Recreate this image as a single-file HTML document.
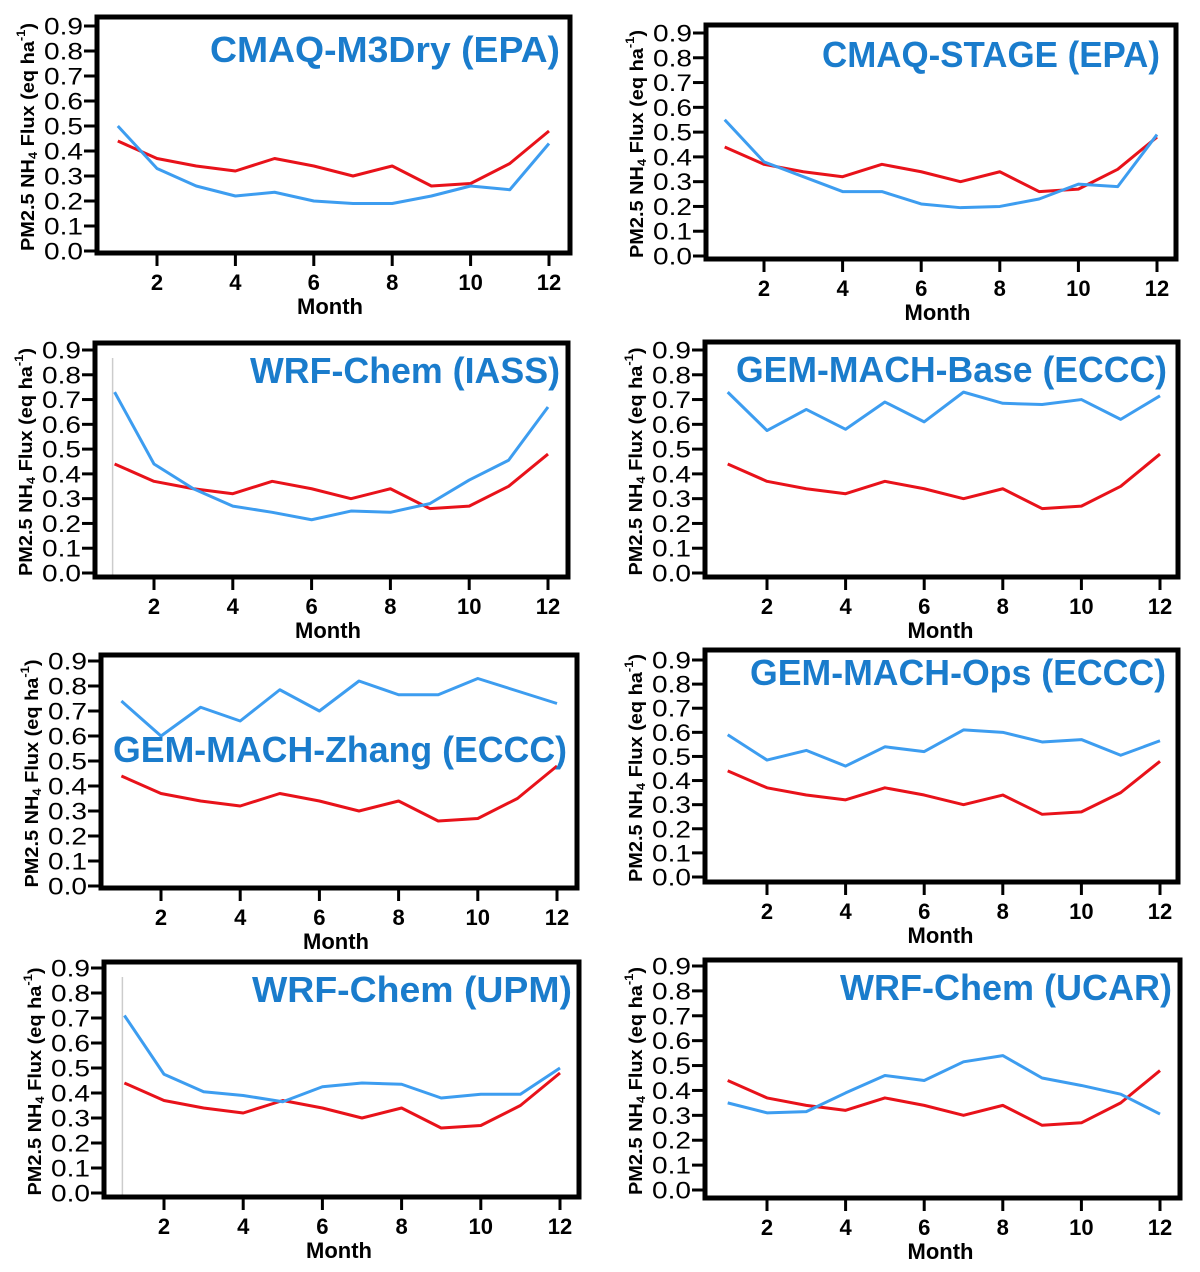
<!DOCTYPE html>
<html><head><meta charset="utf-8"><style>
html,body{margin:0;padding:0;background:#fff;}
svg{display:block;font-family:"Liberation Sans",sans-serif;}
</style></head><body>
<svg id="fig" width="1200" height="1272" viewBox="0 0 1200 1272" xmlns="http://www.w3.org/2000/svg"></svg>
<script>
const months = [1,2,3,4,5,6,7,8,9,10,11,12];
const yTicks = [0.0,0.1,0.2,0.3,0.4,0.5,0.6,0.7,0.8,0.9];
const xTicks = [2,4,6,8,10,12];
const observed = [0.44,0.37,0.34,0.32,0.37,0.34,0.30,0.34,0.26,0.27,0.35,0.48];
const titles = ["CMAQ-M3Dry (EPA)","CMAQ-STAGE (EPA)","WRF-Chem (IASS)","GEM-MACH-Base (ECCC)","GEM-MACH-Zhang (ECCC)","GEM-MACH-Ops (ECCC)","WRF-Chem (UPM)","WRF-Chem (UCAR)"];
const model1 = [0.50,0.33,0.26,0.22,0.235,0.20,0.19,0.19,0.22,0.26,0.245,0.43];
const model2 = [0.55,0.38,0.32,0.26,0.26,0.21,0.195,0.20,0.23,0.29,0.28,0.49];
const model3 = [0.73,0.44,0.34,0.27,0.245,0.215,0.25,0.245,0.28,0.375,0.455,0.67];
const model4 = [0.73,0.575,0.66,0.58,0.69,0.61,0.73,0.685,0.68,0.70,0.62,0.715];
const model5 = [0.74,0.60,0.715,0.66,0.785,0.70,0.82,0.765,0.765,0.83,0.78,0.73];
const model6 = [0.59,0.485,0.525,0.46,0.54,0.52,0.61,0.60,0.56,0.57,0.505,0.565];
const model7 = [0.71,0.475,0.405,0.39,0.365,0.425,0.44,0.435,0.38,0.395,0.395,0.50];
const model8 = [0.35,0.31,0.315,0.39,0.46,0.44,0.515,0.54,0.45,0.42,0.385,0.305];
const models = [model1,model2,model3,model4,model5,model6,model7,model8];

const geo = [
 {bx0:97,bx1:570,by0:17,by1:253,y0:251,y9:26,m2:157,m12:549,tx0:210,tx1:560,ty:62,g1:false},
 {bx0:706,bx1:1176,by0:25,by1:259,y0:256,y9:33,m2:764,m12:1157,tx0:822,tx1:1160,ty:67,g1:false},
 {bx0:95,bx1:568,by0:343,by1:577,y0:573,y9:350,m2:154,m12:548,tx0:250,tx1:560,ty:383,g1:true},
 {bx0:705,bx1:1178,by0:342,by1:577,y0:573,y9:350,m2:767,m12:1160,tx0:736,tx1:1167,ty:382,g1:false},
 {bx0:101,bx1:577,by0:655,by1:888,y0:886,y9:661,m2:161,m12:557,tx0:113,tx1:567,ty:762,g1:false},
 {bx0:705,bx1:1178,by0:650,by1:882,y0:877,y9:660,m2:767,m12:1160,tx0:750,tx1:1166,ty:685,g1:false},
 {bx0:104,bx1:579,by0:962,by1:1197,y0:1193,y9:968,m2:164,m12:560,tx0:252,tx1:572,ty:1002,g1:true},
 {bx0:705,bx1:1180,by0:960,by1:1198,y0:1190,y9:966,m2:767,m12:1160,tx0:840,tx1:1172,ty:1000,g1:false}
];
const NS="http://www.w3.org/2000/svg";
const svg=document.getElementById('fig');
function mk(tag,attrs,parent){const e=document.createElementNS(NS,tag);for(const k in attrs)e.setAttribute(k,attrs[k]);(parent||svg).appendChild(e);return e;}

geo.forEach((g,i)=>{
  const grp=mk('g',{});
  
  
  const xs=m=>g.m2+(m-2)*(g.m12-g.m2)/10;
  const ys=v=>g.y0-(v/0.9)*(g.y0-g.y9);
  yTicks.forEach(t=>{
    const y=ys(t);
    const l=mk('line',{x1:g.bx0-13,x2:g.bx0,y1:y,y2:y,stroke:'#000','stroke-width':3},grp);
    
    
    const tx=mk('text',{x:g.bx0-14,y:y+8.5,'text-anchor':'end','font-size':24,fill:'#000',textLength:39,lengthAdjust:'spacingAndGlyphs'},grp);
    tx.textContent=t.toFixed(1);
    
    
  });
  xTicks.forEach(m=>{
    const x=xs(m);
    const l=mk('line',{x1:x,x2:x,y1:g.by1,y2:g.by1+13,stroke:'#000','stroke-width':3},grp);
    
    
    const tx=mk('text',{x:x,y:g.by1+37,'text-anchor':'middle','font-size':22,'font-weight':'bold',fill:'#000'},grp);
    tx.textContent=m;
    
    
  });
  const mx=mk('text',{x:(g.m2+g.m12)/2-23,y:g.by1+61,'text-anchor':'middle','font-size':22,'font-weight':'bold',fill:'#000'},grp);
  mx.textContent='Month';
  
  
  const cx=g.bx0-68, cy=(g.by0+g.by1)/2+2;
  const yt=mk('text',{x:cx,y:cy,transform:`rotate(-90 ${cx} ${cy})`,'text-anchor':'middle','font-size':18.5,'font-weight':'bold',fill:'#000','dominant-baseline':'middle',textLength:228,lengthAdjust:'spacingAndGlyphs'},grp);
  yt.innerHTML='PM2.5 NH<tspan font-size="12" dy="5">4</tspan><tspan dy="-5"> Flux (eq ha</tspan><tspan font-size="12" dy="-7">-1</tspan><tspan dy="7">)</tspan>';
  
  
  if(g.g1){
    const gl=mk('line',{x1:xs(1)-2,x2:xs(1)-2,y1:g.by0+15,y2:g.by1-2,stroke:'#ccc','stroke-width':1.5},grp);
    
    
  }
  const b=mk('rect',{x:g.bx0,y:g.by0,width:g.bx1-g.bx0,height:g.by1-g.by0,fill:'none',stroke:'#000','stroke-width':5},grp);
  
  
  const line=(vals,col,name)=>{
    const p=mk('polyline',{points:vals.map((v,k)=>xs(months[k])+','+ys(v)).join(' '),fill:'none',stroke:col,'stroke-width':3,'stroke-linejoin':'round'},grp);
    
    
  };
  line(observed,'#e8121a','observed-line');
  line(models[i],'#3d9df0','model-line');
  const t=mk('text',{x:g.tx0,y:g.ty,'font-size':36,'font-weight':'bold',fill:'#1a7ccc',textLength:g.tx1-g.tx0,lengthAdjust:'spacingAndGlyphs'},grp);
  t.textContent=titles[i];
  
  
});
</script>
</body></html>
